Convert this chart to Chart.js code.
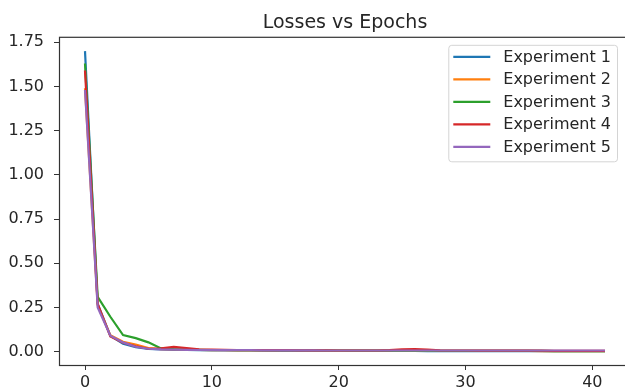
<!DOCTYPE html>
<html>
<head>
<meta charset="utf-8">
<script src="https://cdn.jsdelivr.net/npm/chart.js@4.4.0/dist/chart.umd.min.js"></script>
<style>
  html, body { margin: 0; padding: 0; background: #fff; overflow: hidden; }
  #wrap { width: 660px; height: 391px; }
</style>
</head>
<body>
<div id="wrap"><canvas id="lossChart" width="660" height="391"></canvas></div>
<script>
// epochs on the x axis
const epochs = [0, 1, 2, 3, 4, 5, 6, 7, 8, 9, 10, 11, 12, 13, 14, 15, 16, 17, 18, 19, 20,
    21, 22, 23, 24, 25, 26, 27, 28, 29, 30, 31, 32, 33, 34, 35, 36, 37, 38, 39, 40, 41];

const exp1 = [1.70, 0.27, 0.090, 0.045, 0.025, 0.015, 0.012, 0.010, 0.009, 0.008, 0.007,
    0.007, 0.006, 0.006, 0.006, 0.005, 0.006, 0.005, 0.005, 0.005, 0.004,
    0.004, 0.004, 0.004, 0.004, 0.004, 0.004, 0.003, 0.003, 0.003, 0.003,
    0.003, 0.003, 0.003, 0.003, 0.003, 0.002, 0.002, 0.002, 0.002, 0.002, 0.002];
const exp2 = [1.49, 0.26, 0.092, 0.055, 0.040, 0.020, 0.013, 0.012, 0.010, 0.009, 0.008,
    0.008, 0.007, 0.007, 0.007, 0.007, 0.009, 0.008, 0.007, 0.006, 0.005,
    0.005, 0.005, 0.005, 0.005, 0.005, 0.005, 0.005, 0.004, 0.004, 0.004,
    0.004, 0.004, 0.004, 0.004, 0.004, 0.003, 0.003, 0.003, 0.003, 0.003, 0.003];
const exp3 = [1.63, 0.31, 0.197, 0.093, 0.076, 0.052, 0.018, 0.014, 0.012, 0.010, 0.009,
    0.009, 0.008, 0.008, 0.007, 0.007, 0.007, 0.006, 0.006, 0.006, 0.006,
    0.005, 0.005, 0.005, 0.005, 0.005, 0.005, 0.005, 0.004, 0.004, 0.004,
    0.004, 0.004, 0.004, 0.004, 0.004, 0.004, 0.003, 0.003, 0.003, 0.003, 0.003];
const exp4 = [1.59, 0.27, 0.085, 0.050, 0.030, 0.016, 0.018, 0.026, 0.020, 0.013, 0.011,
    0.010, 0.009, 0.009, 0.008, 0.008, 0.008, 0.007, 0.007, 0.007, 0.006,
    0.006, 0.006, 0.006, 0.008, 0.012, 0.014, 0.011, 0.007, 0.006, 0.006,
    0.005, 0.005, 0.005, 0.005, 0.005, 0.005, 0.004, 0.004, 0.004, 0.004, 0.004];
const exp5 = [1.48, 0.25, 0.090, 0.052, 0.027, 0.016, 0.012, 0.011, 0.010, 0.009, 0.009,
    0.008, 0.008, 0.008, 0.007, 0.007, 0.007, 0.007, 0.007, 0.006, 0.006,
    0.006, 0.006, 0.006, 0.006, 0.006, 0.006, 0.006, 0.006, 0.006, 0.006,
    0.006, 0.006, 0.006, 0.006, 0.006, 0.006, 0.006, 0.006, 0.006, 0.006, 0.006];

const seriesNames = ['Experiment 1', 'Experiment 2', 'Experiment 3', 'Experiment 4', 'Experiment 5'];
const seriesValues = [exp1, exp2, exp3, exp4, exp5];
const seriesColors = ['#1f77b4', '#ff7f0e', '#2ca02c', '#d62728', '#9467bd'];

const xTicks = [0, 10, 20, 30, 40];
const yTicks = [0, 0.25, 0.5, 0.75, 1.0, 1.25, 1.5, 1.75];

const textColor = '#262626';
const fontFamily = '"DejaVu Sans", sans-serif';

// axes frame on all four sides, drawn over the lines like matplotlib spines
const framePlugin = {
    id: 'frame',
    afterDatasetsDraw(chart) {
        const a = chart.chartArea;
        const ctx = chart.ctx;
        ctx.save();
        ctx.strokeStyle = '#333';
        ctx.lineWidth = 1.2;
        ctx.strokeRect(a.left + 0.5, a.top + 0.5, a.right - a.left, a.bottom - a.top);
        ctx.restore();
    }
};

// boxed legend in the upper right corner of the plot
const boxLegend = {
    id: 'boxLegend',
    afterDraw(chart) {
        const ctx = chart.ctx;
        const a = chart.chartArea;
        ctx.save();
        ctx.font = '16px ' + fontFamily;
        let textW = 0;
        chart.data.datasets.forEach(ds => { textW = Math.max(textW, ctx.measureText(ds.label).width); });
        const rowH = 22.5;
        const w = 5 + 37 + 13 + textW + 6;
        const h = chart.data.datasets.length * rowH + 4;
        const right = a.right - 14;
        const x0 = right - w;
        const y0 = a.top + 8;
        ctx.beginPath();
        ctx.roundRect(x0 + 0.5, y0 + 0.5, w, h, 3);
        ctx.fillStyle = 'rgba(255,255,255,0.85)';
        ctx.fill();
        ctx.strokeStyle = '#d4d4d4';
        ctx.lineWidth = 1;
        ctx.stroke();
        chart.data.datasets.forEach((ds, i) => {
            const cy = y0 + 12 + i * rowH;
            ctx.beginPath();
            ctx.moveTo(x0 + 5, cy);
            ctx.lineTo(x0 + 42, cy);
            ctx.strokeStyle = ds.borderColor;
            ctx.lineWidth = 2.2;
            ctx.stroke();
            ctx.fillStyle = textColor;
            ctx.textBaseline = 'middle';
            ctx.textAlign = 'left';
            ctx.fillText(ds.label, x0 + 55, cy + 1);
        });
        ctx.restore();
    }
};

const datasets = seriesNames.map((name, i) => ({
    label: name,
    data: epochs.map((e, j) => ({ x: e, y: seriesValues[i][j] })),
    borderColor: seriesColors[i],
    backgroundColor: seriesColors[i],
    borderWidth: 2.2,
    pointRadius: 0,
    tension: 0,
    fill: false,
    order: seriesNames.length - i
}));

new Chart(document.getElementById('lossChart'), {
    type: 'line',
    data: { datasets: datasets },
    options: {
        responsive: false,
        animation: false,
        devicePixelRatio: 1,
        layout: { padding: { left: 0, right: 29, top: 0, bottom: 0 } },
        plugins: {
            legend: { display: false },
            tooltip: { enabled: false },
            title: {
                display: true,
                text: 'Losses vs Epochs',
                fullSize: false,
                color: textColor,
                font: { family: fontFamily, size: 19, weight: 'normal' },
                padding: { top: 12, bottom: 2 }
            }
        },
        scales: {
            x: {
                type: 'linear',
                min: -2.05,
                max: 43.05,
                afterBuildTicks: (scale) => { scale.ticks = xTicks.map(v => ({ value: v })); },
                afterFit: (scale) => { scale.height = 26; },
                grid: { drawOnChartArea: false, drawTicks: true, tickLength: 5, color: '#333' },
                border: { display: false },
                ticks: {
                    color: textColor,
                    padding: 3,
                    maxRotation: 0,
                    font: { family: fontFamily, size: 16 }
                }
            },
            y: {
                type: 'linear',
                min: -0.076,
                max: 1.781,
                afterBuildTicks: (scale) => { scale.ticks = yTicks.map(v => ({ value: v })); },
                afterFit: (scale) => { scale.width = 59; },
                grid: { drawOnChartArea: false, drawTicks: true, tickLength: 5, color: '#333' },
                border: { display: false },
                ticks: {
                    color: textColor,
                    padding: 10,
                    font: { family: fontFamily, size: 16 },
                    callback: (v) => Number(v).toFixed(2)
                }
            }
        }
    },
    plugins: [framePlugin, boxLegend]
});
</script>
</body>
</html>
